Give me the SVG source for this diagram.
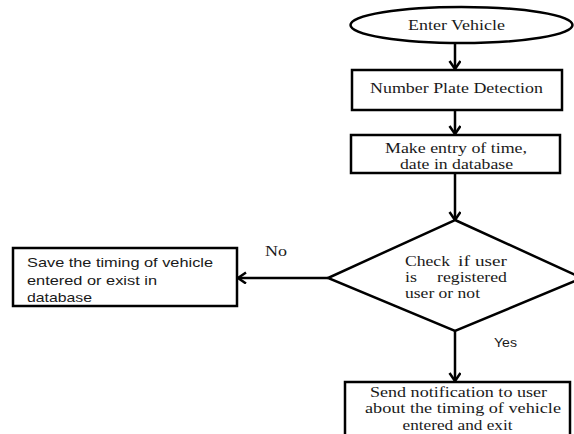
<svg xmlns="http://www.w3.org/2000/svg" width="574" height="434" viewBox="0 0 574 434">
<defs>
<style>
.s{fill:#fff;stroke:#000;stroke-width:2.5}
.c{fill:none;stroke:#000;stroke-width:2.5}
.t{font-family:"Liberation Serif","Times New Roman",serif;font-size:14.5px;fill:#1a1a1a}
.a{font-family:"Liberation Sans",Arial,sans-serif;font-size:13px;fill:#1a1a1a}
</style>
<marker id="ah" markerUnits="userSpaceOnUse" markerWidth="14" markerHeight="14" refX="9" refY="6" orient="auto">
<path d="M1,0.5 L9,6 L1,11.5" fill="none" stroke="#000" stroke-width="2.5"/>
</marker>
</defs>
<rect width="574" height="434" fill="#fff"/>
<g id="connectors">
<line class="c" x1="455" y1="43" x2="455" y2="69" marker-end="url(#ah)"/>
<line class="c" x1="455" y1="110" x2="455" y2="134" marker-end="url(#ah)"/>
<line class="c" x1="455" y1="173" x2="455" y2="220" marker-end="url(#ah)"/>
<line class="c" x1="328" y1="278" x2="238" y2="278" marker-end="url(#ah)"/>
<line class="c" x1="455" y1="331" x2="455" y2="381" marker-end="url(#ah)"/>
<text class="t" x="265" y="256" textLength="22" lengthAdjust="spacingAndGlyphs">No</text>
<text class="a" x="494" y="347" textLength="23" lengthAdjust="spacingAndGlyphs">Yes</text>
</g>
<g id="start">
<ellipse class="s" cx="461.5" cy="25" rx="111" ry="18"/>
<text class="t" x="456.5" y="30" text-anchor="middle" textLength="97" lengthAdjust="spacingAndGlyphs">Enter Vehicle</text>
</g>
<g id="detect">
<rect class="s" x="352" y="70" width="210" height="40"/>
<text class="t" x="456.5" y="93" text-anchor="middle" textLength="173" lengthAdjust="spacingAndGlyphs">Number Plate Detection</text>
</g>
<g id="entry">
<rect class="s" x="351" y="135" width="209" height="38"/>
<text class="t" x="456" y="152.5" text-anchor="middle" textLength="142" lengthAdjust="spacingAndGlyphs">Make entry of time,</text>
<text class="t" x="456.5" y="169" text-anchor="middle" textLength="113" lengthAdjust="spacingAndGlyphs">date in database</text>
</g>
<g id="check">
<polygon class="s" points="455,220 582,278 455,331 328,278"/>
<text class="t" x="405" y="266" textLength="45" lengthAdjust="spacingAndGlyphs">Check</text>
<text class="t" x="458" y="266" textLength="12" lengthAdjust="spacingAndGlyphs">if</text>
<text class="t" x="475" y="266" textLength="32" lengthAdjust="spacingAndGlyphs">user</text>
<text class="t" x="405" y="282" textLength="12" lengthAdjust="spacingAndGlyphs">is</text>
<text class="t" x="437" y="282" textLength="70" lengthAdjust="spacingAndGlyphs">registered</text>
<text class="t" x="405" y="298" textLength="75" lengthAdjust="spacingAndGlyphs">user or not</text>
</g>
<g id="save">
<rect class="s" x="13" y="248" width="224" height="58"/>
<text class="a" x="27" y="267" textLength="186" lengthAdjust="spacingAndGlyphs">Save the timing of vehicle</text>
<text class="a" x="27" y="284.5" textLength="130" lengthAdjust="spacingAndGlyphs">entered or exist in</text>
<text class="a" x="27" y="301.5" textLength="65" lengthAdjust="spacingAndGlyphs">database</text>
</g>
<g id="notify">
<rect class="s" x="345" y="382" width="225" height="62"/>
<text class="t" x="458.5" y="397" text-anchor="middle" textLength="177" lengthAdjust="spacingAndGlyphs">Send notification to user</text>
<text class="t" x="463" y="413" text-anchor="middle" textLength="196" lengthAdjust="spacingAndGlyphs">about the timing of vehicle</text>
<text class="t" x="457.5" y="430" text-anchor="middle" textLength="110" lengthAdjust="spacingAndGlyphs">entered and exit</text>
</g>
</svg>
